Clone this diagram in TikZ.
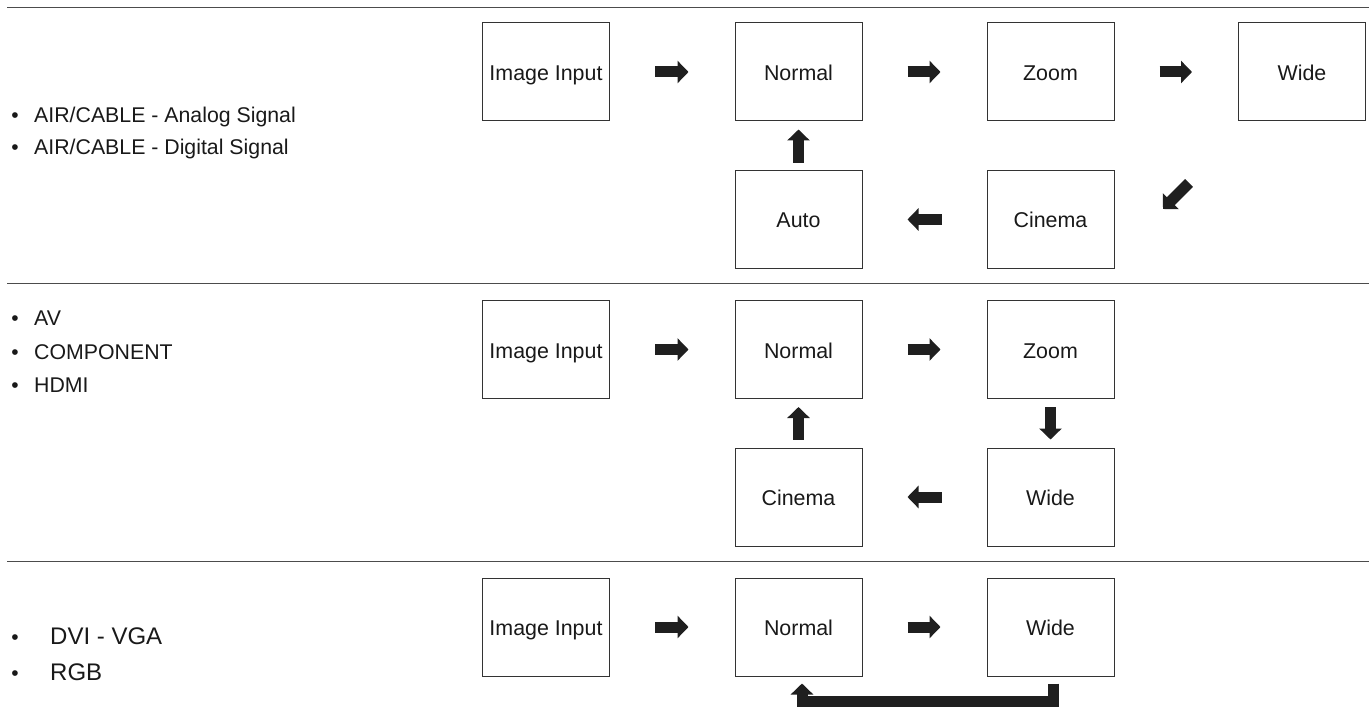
\documentclass[tikz,border=0pt]{standalone}
\usepackage{fontspec}
\setmainfont{Liberation Sans}
\usetikzlibrary{arrows.meta}
\begin{document}
\begin{tikzpicture}[x=1pt,y=-1pt,
  box/.style={draw=black!80, line width=1pt, minimum width=127pt, minimum height=98pt,
    inner sep=0pt, text height=17pt, text depth=0pt, font=\fontsize{21.4}{25}\selectfont, text=black!90},
  barrow/.style={line width=11pt, draw=black!88, -{Triangle[length=11pt,width=22pt]}, line join=miter},
  sep/.style={line width=1.5pt, draw=black!70},
  item/.style={anchor=base west, inner sep=0pt, font=\fontsize{21.3}{25}\selectfont, text=black!90},
  bigitem/.style={item, font=\fontsize{24}{28}\selectfont},
  bul/.style={anchor=base, inner sep=0pt, font=\fontsize{21}{25}\selectfont, text=black!90}]
\useasboundingbox (0,0) rectangle (1369,722);

% separators
\draw[sep] (7,7.7) -- (1369,7.7);
\draw[sep] (7,283.5) -- (1369,283.5);
\draw[sep] (7,561.5) -- (1369,561.5);

% ---- row 1 ----
\node[bul] (b11) at (15,122.3) {•};
\node[item] (t11) at (34,122.3) {AIR/CABLE - Analog Signal};
\node[bul] (b12) at (15,155) {•};
\node[item] (t12) at (34,155) {AIR/CABLE - Digital Signal};

\node[box] (ii1) at (546,72) {Image Input};
\node[box] (n1) at (798.5,72) {Normal};
\node[box] (z1) at (1050.5,72) {Zoom};
\node[box] (w1) at (1302,72) {Wide};
\node[box] (a1) at (798.5,219.5) {Auto};
\node[box] (c1) at (1050.5,219.5) {Cinema};

\draw[barrow, shorten <=45pt, shorten >=46pt] (ii1) -- (n1);
\draw[barrow, shorten <=45pt, shorten >=46pt] (n1) -- (z1);
\draw[barrow, shorten <=45pt, shorten >=46pt] (z1) -- (w1);
\draw[barrow, shorten <=45pt, shorten >=45pt] (c1) -- (a1);
\draw[barrow, shorten <=7pt, shorten >=8pt] (a1) -- (n1);
\coordinate (dtail) at (1189,183);
\coordinate (dtip) at (1163,209);
\draw[barrow] (dtail) -- (dtip);

% ---- row 2 ----
\node[bul] (b21) at (15,325.7) {•};
\node[item] (t21) at (34,325.7) {AV};
\node[bul] (b22) at (15,359) {•};
\node[item] (t22) at (34,359) {COMPONENT};
\node[bul] (b23) at (15,392.3) {•};
\node[item] (t23) at (34,392.3) {HDMI};

\node[box] (ii2) at (546,349.5) {Image Input};
\node[box] (n2) at (798.5,349.5) {Normal};
\node[box] (z2) at (1050.5,349.5) {Zoom};
\node[box] (c2) at (798.5,497) {Cinema};
\node[box] (w2) at (1050.5,497) {Wide};

\draw[barrow, shorten <=45pt, shorten >=46pt] (ii2) -- (n2);
\draw[barrow, shorten <=45pt, shorten >=46pt] (n2) -- (z2);
\draw[barrow, shorten <=8pt, shorten >=8pt] (z2) -- (w2);
\draw[barrow, shorten <=45pt, shorten >=45pt] (w2) -- (c2);
\draw[barrow, shorten <=8pt, shorten >=8pt] (c2) -- (n2);

% ---- row 3 ----
\node[bul] (b31) at (15,644) {•};
\node[bigitem] (t31) at (50,644) {DVI - VGA};
\node[bul] (b32) at (15,680) {•};
\node[bigitem] (t32) at (50,680) {RGB};

\node[box] (ii3) at (546,627) {Image Input};
\node[box] (n3) at (798.5,627) {Normal};
\node[box] (w3) at (1050.5,627) {Wide};

\draw[barrow, shorten <=45pt, shorten >=46pt] (ii3) -- (n3);
\draw[barrow, shorten <=45pt, shorten >=46pt] (n3) -- (w3);
\draw[barrow] ([xshift=3pt,yshift=-7pt]w3.south) |- ([xshift=3.5pt,yshift=-25pt]n3.south)
  -- ([xshift=3.5pt,yshift=-7pt]n3.south);
\end{tikzpicture}
\end{document}
